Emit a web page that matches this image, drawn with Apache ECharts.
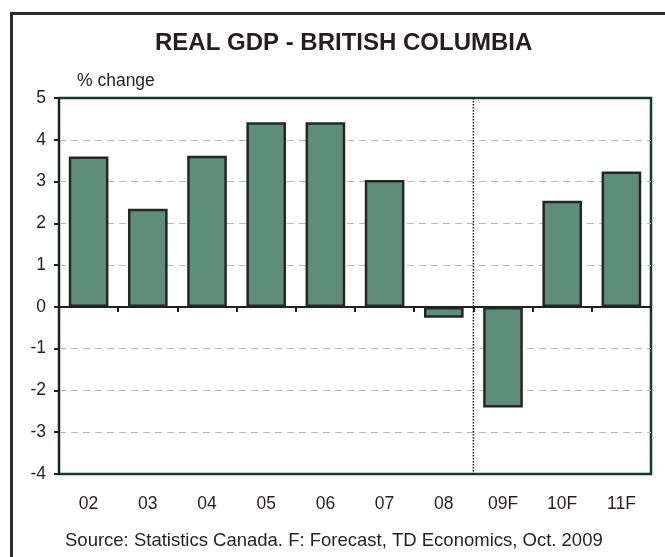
<!DOCTYPE html>
<html>
<head>
<meta charset="utf-8">
<script src="https://cdn.jsdelivr.net/npm/echarts@6/dist/echarts.min.js"></script>
<style>
  html, body { margin: 0; padding: 0; background: #fff; }
  #chart { width: 665px; height: 557px; }
</style>
</head>
<body>
<div id="chart"></div>
<script>
// Real GDP growth, British Columbia (% change), F = forecast
const years  = ['02', '03', '04', '05', '06', '07', '08', '09F', '10F', '11F']
const growth = [3.6, 2.35, 3.62, 4.42, 4.42, 3.04, -0.26, -2.41, 2.54, 3.24]
const yTicks = { min: -4, max: 5, step: 1 }
// actual / forecast divider sits on the boundary after "08" (index position 7 of 10)
const dividerAt = 7

const FONT = '"Liberation Sans", Arial, sans-serif'
const INK  = '#231f20'

const c = echarts.init(document.getElementById('chart'), null, { renderer: 'canvas' })

c.setOption({
  backgroundColor: '#fff',
  animation: false,
  title: [
    { text: 'REAL GDP - BRITISH COLUMBIA', left: 155, top: 31, padding: 0,
      textStyle: { fontFamily: FONT, fontSize: 24, fontWeight: 'bold', color: INK } },
    { text: '% change', left: 77, top: 72, padding: 0,
      textStyle: { fontFamily: FONT, fontSize: 17.5, fontWeight: 'normal', color: INK } },
    { text: 'Source: Statistics Canada. F: Forecast, TD Economics, Oct. 2009', left: 65, top: 531, padding: 0,
      textStyle: { fontFamily: FONT, fontSize: 18.5, fontWeight: 'normal', color: INK } },
  ],
  graphic: [
    // outer frame, only left and top edges fall inside the picture
    { type: 'rect', left: 9, top: 11, z: 100,
      shape: { width: 720, height: 640 },
      style: { fill: null, stroke: '#2b2b2b', lineWidth: 3 } },
  ],
  grid: { left: 59, right: 14, top: 98, bottom: 83, show: true,
          borderColor: '#0b3f2f', borderWidth: 2.5, backgroundColor: '#fff' },
  xAxis: [
    { type: 'category', data: years,
      axisLine: { onZero: true, lineStyle: { color: INK, width: 2 } },
      axisTick: { show: true, interval: 0, length: 5, lineStyle: { color: INK, width: 2 } },
      axisLabel: { show: false }, splitLine: { show: false } },
    { type: 'category', data: years, position: 'bottom',
      axisLine: { show: false, onZero: false }, axisTick: { show: false },
      axisLabel: { interval: 0, margin: 21, fontFamily: FONT, fontSize: 17.5, color: INK } },
    { type: 'value', min: 0, max: years.length, show: false },
  ],
  yAxis: {
    type: 'value', min: yTicks.min, max: yTicks.max, interval: yTicks.step,
    axisLine: { show: true, lineStyle: { color: INK, width: 2 } },
    axisTick: { show: true, length: 5, lineStyle: { color: INK, width: 2 } },
    axisLabel: { margin: 13, fontFamily: FONT, fontSize: 17.5, color: INK },
    splitLine: { showMinLine: false, showMaxLine: false,
                 lineStyle: { color: '#b9b9b9', width: 1, type: [7, 5] } },
  },
  series: [
    { name: 'Real GDP', type: 'bar', xAxisIndex: 0, data: growth, barWidth: '67%',
      itemStyle: { color: '#5e8e7b', borderColor: '#262626', borderWidth: 2.5 } },
    { name: 'divider', type: 'line', xAxisIndex: 2, symbol: 'none', silent: true,
      data: [[dividerAt, yTicks.max], [dividerAt, yTicks.min]],
      lineStyle: { color: '#111', width: 1.5, type: [1.5, 1.5] }, z: 1 },
  ],
})
</script>
</body>
</html>
